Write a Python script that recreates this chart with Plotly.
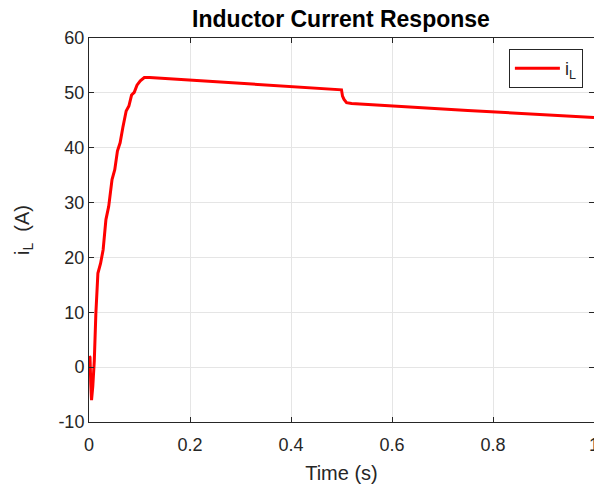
import plotly.graph_objects as go

# Data
time_s = [0.0, 0.001, 0.002, 0.0035, 0.005, 0.0075, 0.0105, 0.0136, 0.0176,
          0.0229, 0.028, 0.0335, 0.039, 0.0456, 0.051, 0.0563, 0.0616, 0.067,
          0.0736, 0.079, 0.0843, 0.0896, 0.095, 0.1016, 0.1095, 0.12, 0.3,
          0.458, 0.5, 0.502, 0.505, 0.51, 0.52, 0.75, 1.0]
i_L = [0.0, 2.0, 1.8, -3.0, -6.0, -3.5, 1.2, 9.8, 17.1,
       18.9, 21.4, 26.9, 29.3, 34.2, 36.0, 39.4, 40.9, 43.7,
       46.7, 47.6, 49.6, 50.1, 51.4, 52.2, 52.8, 52.8, 51.7,
       50.75, 50.55, 49.4, 48.8, 48.2, 48.05, 46.8, 45.5]

x_ticks = [0, 0.2, 0.4, 0.6, 0.8, 1]
x_tick_labels = ["0", "0.2", "0.4", "0.6", "0.8", "1"]
y_ticks = [-10, 0, 10, 20, 30, 40, 50, 60]
y_tick_labels = ["-10", "0", "10", "20", "30", "40", "50", "60"]

FONT = "Liberation Sans, Arial, Helvetica, sans-serif"
AX = "#262626"

fig = go.Figure()
fig.add_trace(go.Scatter(
    x=time_s, y=i_L, mode="lines", name="i<sub>L</sub>",
    line=dict(color="#ff0000", width=3),
))

axis_common = dict(
    showline=True, linecolor=AX, linewidth=1, mirror="ticks",
    ticks="inside", ticklen=5, tickcolor=AX, tickwidth=1,
    showgrid=True, gridcolor="#e5e5e5", gridwidth=1, zeroline=False,
    tickfont=dict(family=FONT, size=18, color=AX), automargin=False,
    ticklabeloverflow="allow",
)

fig.update_layout(
    width=594, height=489,
    margin=dict(l=89, r=0, t=38, b=67),
    paper_bgcolor="white", plot_bgcolor="white",
    title=dict(text="<b>Inductor Current Response</b>",
               font=dict(family=FONT, size=23, color="#000000"),
               x=341 / 594, xanchor="center", y=1 - 19 / 489, yanchor="middle"),
    xaxis=dict(range=[0, 1], tickvals=x_ticks, ticktext=x_tick_labels,
               ticklabelstandoff=6,
               title=dict(text="Time (s)", font=dict(family=FONT, size=20, color=AX), standoff=12),
               **axis_common),
    yaxis=dict(range=[-10, 60], tickvals=y_ticks, ticktext=y_tick_labels,
               title=dict(text="i<sub>L</sub>  (A)", font=dict(family=FONT, size=20, color=AX), standoff=23),
               **axis_common),
    legend=dict(x=0.978, y=0.971, xanchor="right", yanchor="top",
                bgcolor="white", bordercolor="#262626", borderwidth=1,
                itemwidth=45,
                font=dict(family=FONT, size=18, color=AX)),
    showlegend=True,
)

fig.write_html("out.html", config={"displayModeBar": False},
               post_script="document.body.style.margin='0';document.body.style.overflow='hidden';")
